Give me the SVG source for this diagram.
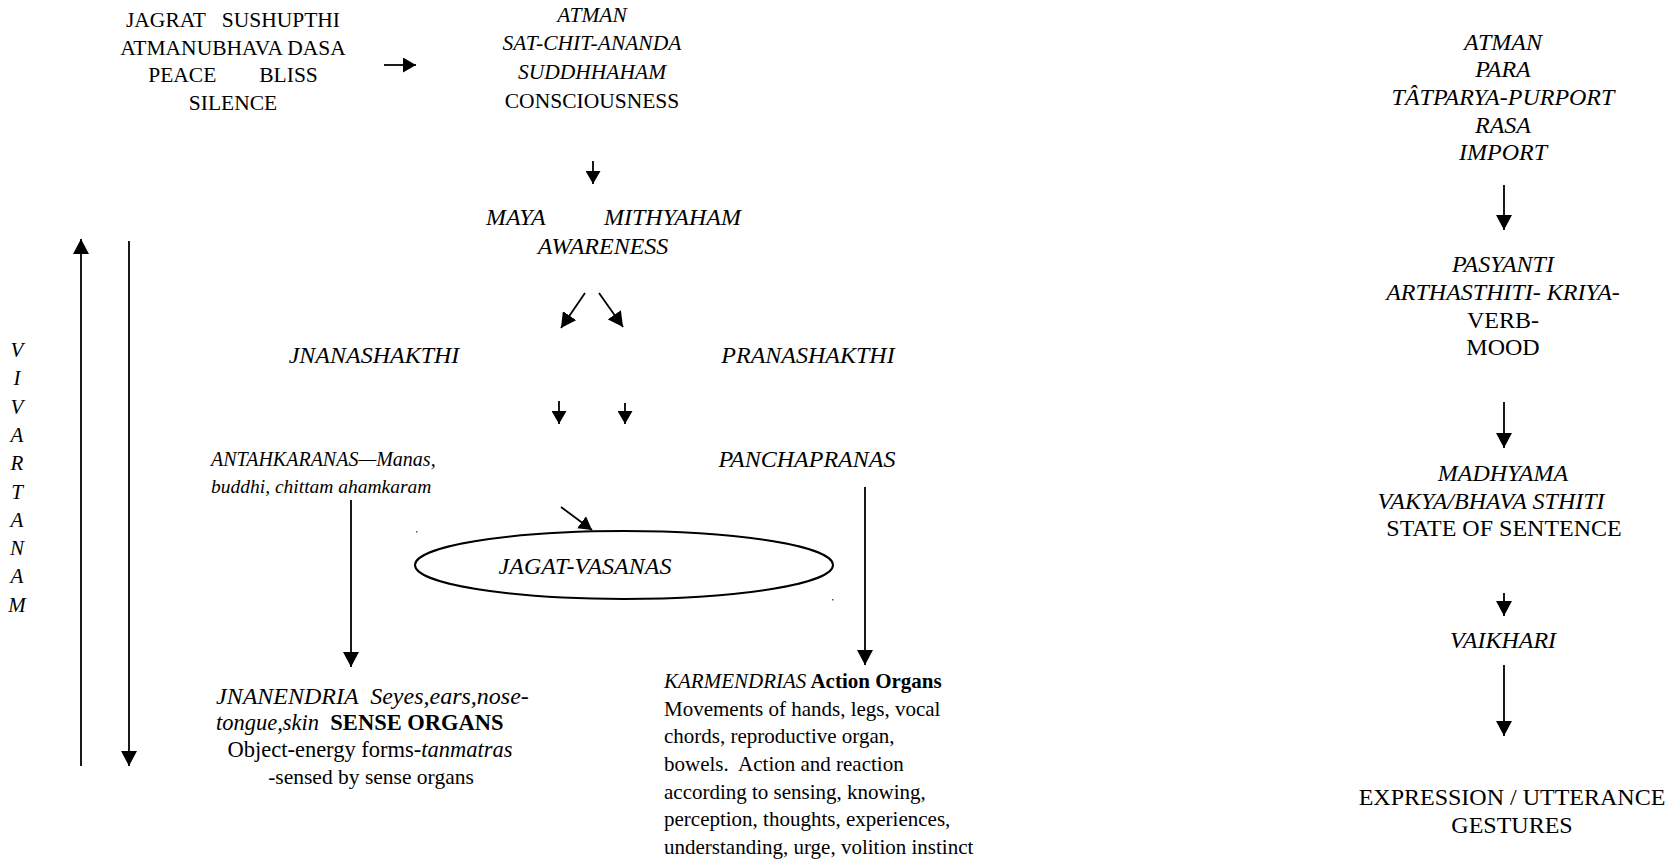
<svg xmlns="http://www.w3.org/2000/svg" width="1672" height="864" viewBox="0 0 1672 864">
<style>
text{font-family:"Liberation Serif","Times New Roman",serif;fill:#000;white-space:pre}
.s{font-size:21px}
.m{font-size:21.5px}
.r{font-size:24px}
.i{font-style:italic}
.b{font-weight:bold}
.c{text-anchor:middle}
.ln{stroke:#000;stroke-width:1.8;fill:none}
</style>
<defs>
<marker id="ah" markerUnits="userSpaceOnUse" markerWidth="16" markerHeight="16" refX="15" refY="8" orient="auto">
<path d="M0,0 L15,8 L0,16 z" fill="#000"/>
</marker>
<marker id="as" markerUnits="userSpaceOnUse" markerWidth="15" markerHeight="15" refX="13" refY="7.5" orient="auto">
<path d="M0,0 L13,7.5 L0,15 z" fill="#000"/>
</marker>
</defs>
<rect width="1672" height="864" fill="#fff"/>

<g id="connectors">
<line class="ln" x1="384" y1="65" x2="416" y2="65" marker-end="url(#as)"/>
<line class="ln" x1="593" y1="161" x2="593" y2="184" marker-end="url(#as)"/>
<line class="ln" x1="585" y1="293" x2="561" y2="328" marker-end="url(#ah)"/>
<line class="ln" x1="599" y1="293" x2="623" y2="327" marker-end="url(#ah)"/>
<line class="ln" x1="559" y1="401" x2="559" y2="424" marker-end="url(#as)"/>
<line class="ln" x1="625" y1="403" x2="625" y2="424" marker-end="url(#as)"/>
<line class="ln" x1="561" y1="507" x2="592" y2="530" marker-end="url(#as)"/>
<line class="ln" x1="351" y1="500" x2="351" y2="667" marker-end="url(#ah)"/>
<line class="ln" x1="865" y1="487" x2="865" y2="665" marker-end="url(#ah)"/>
<line class="ln" x1="81" y1="766" x2="81" y2="239" marker-end="url(#ah)"/>
<line class="ln" x1="129" y1="241" x2="129" y2="766" marker-end="url(#ah)"/>
<line class="ln" x1="1504" y1="185" x2="1504" y2="230" marker-end="url(#ah)"/>
<line class="ln" x1="1504" y1="402" x2="1504" y2="448" marker-end="url(#ah)"/>
<line class="ln" x1="1504" y1="593" x2="1504" y2="616" marker-end="url(#ah)"/>
<line class="ln" x1="1504" y1="665" x2="1504" y2="736" marker-end="url(#ah)"/>
</g>

<g id="n-jagrat">
<text class="m c" x="233" y="27">JAGRAT   SUSHUPTHI</text>
<text class="m c" x="233" y="55">ATMANUBHAVA DASA</text>
<text class="m c" x="233" y="82">PEACE        BLISS</text>
<text class="m c" x="233" y="110">SILENCE</text>
</g>

<g id="n-atman">
<text class="m c i" x="592" y="22">ATMAN</text>
<text class="m c i" x="592" y="50">SAT-CHIT-ANANDA</text>
<text class="m c i" x="592" y="79">SUDDHHAHAM</text>
<text class="m c" x="592" y="108">CONSCIOUSNESS</text>
</g>

<g id="n-maya">
<text class="r i" x="486" y="225">MAYA</text>
<text class="r i" x="604" y="225">MITHYAHAM</text>
<text class="r c i" x="603" y="254">AWARENESS</text>
</g>

<g id="n-jnanashakthi">
<text class="r c i" x="374" y="363">JNANASHAKTHI</text>
</g>
<g id="n-pranashakthi">
<text class="r c i" x="808" y="363">PRANASHAKTHI</text>
</g>

<g id="n-antahkaranas">
<text class="i" style="font-size:20px" x="211" y="466">ANTAHKARANAS—Manas,</text>
<text class="i" style="font-size:19.5px" x="211" y="493">buddhi, chittam ahamkaram</text>
</g>
<g id="n-panchapranas">
<text class="r c i" x="807" y="467">PANCHAPRANAS</text>
</g>

<g id="n-jagat">
<ellipse cx="624" cy="565" rx="209" ry="34" fill="none" stroke="#000" stroke-width="2"/>
<text class="r c i" x="585" y="574">JAGAT-VASANAS</text>
<rect x="416" y="531" width="1.5" height="1.5" fill="#555"/>
<rect x="832" y="599" width="1.5" height="1.5" fill="#555"/>
</g>

<g id="n-jnanendria">
<text class="r i" x="216" y="704">JNANENDRIA  Seyes,ears,nose-</text>
<text style="font-size:22.5px" x="216" y="730"><tspan class="i">tongue,skin</tspan><tspan class="b">  SENSE ORGANS</tspan></text>
<text class="c" style="font-size:22.5px" x="370" y="757">Object-energy forms-<tspan class="i">tanmatras</tspan></text>
<text class="c" style="font-size:21.5px" x="371" y="784">-sensed by sense organs</text>
</g>

<g id="n-karmendrias">
<text class="s" x="664" y="688"><tspan class="i">KARMENDRIAS</tspan><tspan class="b"> Action Organs</tspan></text>
<text class="s" x="664" y="716">Movements of hands, legs, vocal</text>
<text class="s" x="664" y="743">chords, reproductive organ,</text>
<text class="s" x="664" y="771">bowels.  Action and reaction</text>
<text class="s" x="664" y="799">according to sensing, knowing,</text>
<text class="s" x="664" y="826">perception, thoughts, experiences,</text>
<text class="s" x="664" y="854">understanding, urge, volition instinct</text>
</g>

<g id="n-vivartanam">
<text class="s c i" x="17" y="357">V</text>
<text class="s c i" x="17" y="385">I</text>
<text class="s c i" x="17" y="414">V</text>
<text class="s c i" x="17" y="442">A</text>
<text class="s c i" x="17" y="470">R</text>
<text class="s c i" x="17" y="499">T</text>
<text class="s c i" x="17" y="527">A</text>
<text class="s c i" x="17" y="555">N</text>
<text class="s c i" x="17" y="583">A</text>
<text class="s c i" x="17" y="612">M</text>
</g>

<g id="n-para">
<text class="r c i" x="1503" y="50">ATMAN</text>
<text class="r c i" x="1503" y="77">PARA</text>
<text class="r c i" x="1503" y="105">TÂTPARYA-PURPORT</text>
<text class="r c i" x="1503" y="133">RASA</text>
<text class="r c i" x="1503" y="160">IMPORT</text>
</g>

<g id="n-pasyanti">
<text class="r c i" x="1503" y="272">PASYANTI</text>
<text class="r c i" x="1503" y="300">ARTHASTHITI- KRIYA-</text>
<text class="r c" x="1503" y="328">VERB-</text>
<text class="r c" x="1503" y="355">MOOD</text>
</g>

<g id="n-madhyama">
<text class="r c i" x="1503" y="481">MADHYAMA</text>
<text class="r c i" x="1491" y="509">VAKYA/BHAVA STHITI</text>
<text class="r c" x="1504" y="536">STATE OF SENTENCE</text>
</g>

<g id="n-vaikhari">
<text class="r c i" x="1503" y="648">VAIKHARI</text>
</g>

<g id="n-expression">
<text class="r c" x="1512" y="805">EXPRESSION / UTTERANCE</text>
<text class="r c" x="1512" y="833">GESTURES</text>
</g>
</svg>
